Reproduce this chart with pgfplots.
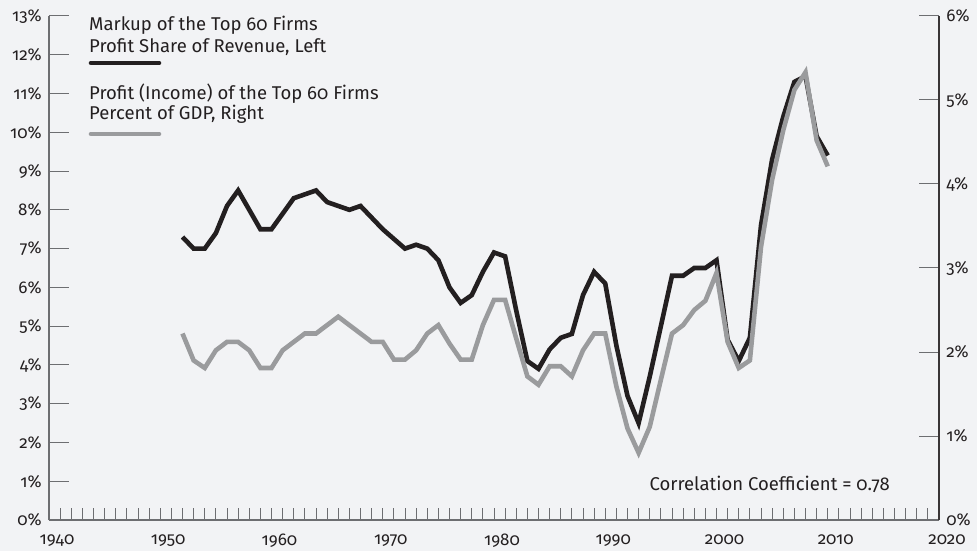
\documentclass[border=0pt]{standalone}
\usepackage{fontspec}
\setmainfont{Fira Sans}[Numbers=OldStyle]
\usepackage{pgfplots}
\pgfplotsset{compat=1.18}
\definecolor{bg}{HTML}{F2F3F5}
\definecolor{dark}{HTML}{231F20}
\definecolor{lgray}{HTML}{9A9B9D}
\definecolor{axgray}{HTML}{6D6E71}
\pgfplotstableread{
year val
1952 7.3
1953 7.0
1954 7.0
1955 7.4
1956 8.1
1957 8.5
1958 8.0
1959 7.5
1960 7.5
1961 7.9
1962 8.3
1963 8.4
1964 8.5
1965 8.2
1966 8.1
1967 8.0
1968 8.1
1969 7.8
1970 7.5
1971 7.25
1972 7.0
1973 7.1
1974 7.0
1975 6.7
1976 6.0
1977 5.6
1978 5.8
1979 6.4
1980 6.9
1981 6.8
1982 5.4
1983 4.1
1984 3.9
1985 4.4
1986 4.7
1987 4.8
1988 5.8
1989 6.4
1990 6.1
1991 4.5
1992 3.2
1993 2.5
1994 3.7
1995 5.0
1996 6.3
1997 6.3
1998 6.5
1999 6.5
2000 6.7
2001 4.65
2002 4.1
2003 4.7
2004 7.6
2005 9.3
2006 10.4
2007 11.3
2008 11.45
2009 9.9
2010 9.4
}\markup
\pgfplotstableread{
year val
1952 2.22
1953 1.90
1954 1.81
1955 2.02
1956 2.12
1957 2.12
1958 2.02
1959 1.81
1960 1.81
1961 2.02
1962 2.12
1963 2.22
1964 2.22
1965 2.32
1966 2.42
1967 2.32
1968 2.22
1969 2.12
1970 2.12
1971 1.91
1972 1.91
1973 2.02
1974 2.22
1975 2.32
1976 2.10
1977 1.91
1978 1.91
1979 2.32
1980 2.62
1981 2.62
1982 2.16
1983 1.71
1984 1.61
1985 1.83
1986 1.83
1987 1.71
1988 2.02
1989 2.22
1990 2.22
1991 1.59
1992 1.09
1993 0.80
1994 1.11
1995 1.67
1996 2.22
1997 2.32
1998 2.50
1999 2.61
2000 2.94
2001 2.12
2002 1.81
2003 1.90
2004 3.25
2005 4.05
2006 4.64
2007 5.12
2008 5.33
2009 4.52
2010 4.21
}\profit
\begin{document}
\fontsize{18.5}{22}\selectfont
\begin{tikzpicture}
\fill[bg] (0,0) rectangle (977pt,551pt);
\pgfplotsset{
  base/.style={
    at={(49pt,31pt)}, anchor=south west, scale only axis,
    width=890pt, height=504pt,
    xmin=1940, xmax=2020,
    tick align=inside,
    major tick length=20pt, minor tick length=12pt,
    tick style={color=axgray, line width=1pt},
    axis line style={color=axgray, line width=1.2pt},
    ticklabel style={font=\fontsize{17}{20}\selectfont, color=dark},
    /pgf/number format/assume math mode=true,
    clip=false,
  }
}
\begin{axis}[base,
  ymin=0, ymax=13,
  axis x line*=bottom, axis y line*=left,
  xtick={1940,1950,...,2020}, minor x tick num=9,
  xtick style={/pgfplots/major tick length=12pt},
  xticklabel style={/pgf/number format/1000 sep={}, yshift=-8pt, xshift=8pt},
  ytick={0,...,13},
  yticklabel={\pgfmathprintnumber{\tick}\%},
  yticklabel style={xshift=-1pt},
]
\addplot[dark, line width=4.6pt, line join=miter] table[x=year,y=val]{\markup};
\end{axis}
\begin{axis}[base,
  ymin=0, ymax=6,
  axis x line=none, axis y line*=right,
  ytick={0,...,6},
  yticklabel={\pgfmathprintnumber{\tick}\%},
  yticklabel style={xshift=1pt},
  axis line style={color=dark!90, line width=1.2pt},
]
\addplot[lgray, line width=4.6pt, line join=miter] table[x=year,y=val]{\profit};
\end{axis}
\node[anchor=base west, inner sep=0, text=dark] at (89pt,520pt) {Markup of the Top 60 Firms};
\node[anchor=base west, inner sep=0, text=dark] at (89pt,498pt) {Profit Share of Revenue, Left};
\draw[dark, line width=4.6pt, line cap=round] (91pt,488pt) -- (159pt,488pt);
\node[anchor=base west, inner sep=0, text=dark] at (89pt,451pt) {Profit (Income) of the Top 60 Firms};
\node[anchor=base west, inner sep=0, text=dark] at (89pt,431pt) {Percent of GDP, Right};
\draw[lgray, line width=4.6pt, line cap=round] (91pt,417pt) -- (159pt,417pt);
\node[anchor=base east, inner sep=0, text=dark] at (890pt,61pt) {Correlation Coefficient = 0.78};
\end{tikzpicture}
\end{document}
